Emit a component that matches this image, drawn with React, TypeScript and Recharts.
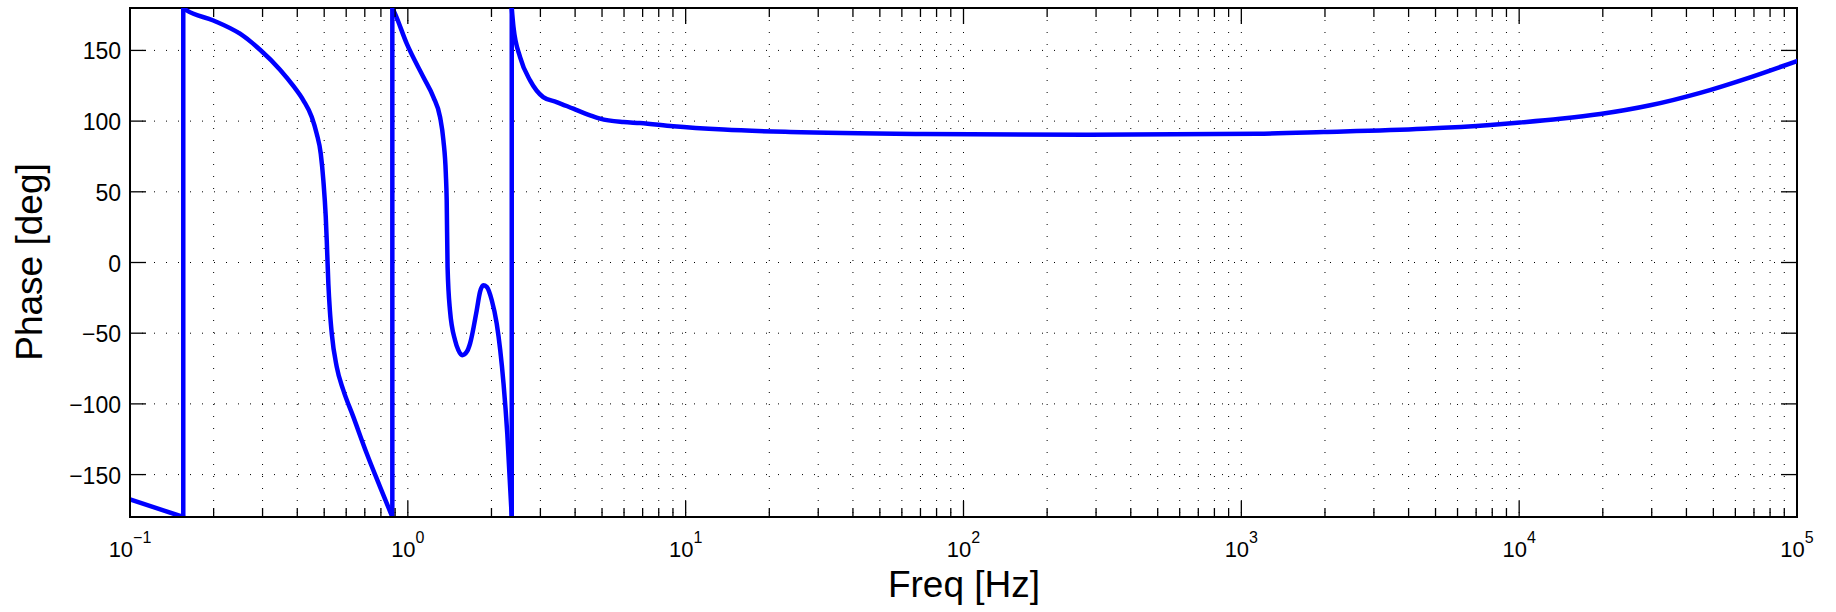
import { LineChart, Line, XAxis, YAxis, CartesianGrid, ReferenceArea } from 'recharts';

// phase branches of the Bode plot, frequency [Hz] / phase [deg]
const branch1F = [0.1, 0.1555];
const branch1P = [-167.5, -180];

const branch2F = [0.1555, 0.16, 0.1995, 0.2489, 0.2938, 0.3467, 0.387, 0.4206, 0.451, 0.4699, 0.4859, 0.4965, 0.5065, 0.5107, 0.5175, 0.524, 0.5323, 0.5548, 0.5859, 0.6366, 0.7114, 0.7943, 0.8794];
const branch2P = [180, 178.3, 171.2, 161.8, 150.5, 136.4, 124.9, 114.7, 102.9, 91.1, 77, 58.1, 32.2, 15.7, -14.9, -33.8, -50.2, -73.8, -90.3, -109.2, -135.1, -158.7, -180];

const branch3F = [0.8794, 0.899, 0.991, 1.137, 1.236, 1.306, 1.343, 1.37, 1.38, 1.39, 1.418, 1.479, 1.52, 1.57, 1.63, 1.675, 1.77, 1.819, 1.87, 1.923, 2.005, 2.089, 2.21, 2.28, 2.366];
const branch3P = [180, 176, 154.8, 131.2, 117, 102.9, 86.4, 62.9, 44, -3.2, -33.8, -55, -62, -65.6, -63.2, -57.3, -33.8, -20.8, -16.1, -17.3, -26.7, -43.2, -85.6, -121, -180];

const branch4F = [2.366, 2.4, 2.535, 2.754, 3.07, 3.43, 3.94, 4.53, 4.92, 5.97, 6.85, 9.03, 13.7, 23.8, 71.8, 286, 1138, 1977, 4529, 7870, 10083, 14047, 19567, 29620, 44840, 67850, 100000];
const branch4P = [180, 166.5, 145.3, 128.8, 117, 113.5, 108.8, 104.1, 101.7, 99.3, 98.6, 96.3, 94, 92.3, 90.9, 90.4, 91.1, 92.3, 94.6, 97.3, 99, 101.6, 105, 111.2, 120, 131, 142.5];

// wrap points where the phase jumps from -180 to +180
const wrapF = [0.1555, 0.8794, 2.366];

const decades = [0.1, 1, 10, 100, 1000, 10000, 100000];
const decadeExp = ['\u22121', '0', '1', '2', '3', '4', '5'];
const minorMult = [2, 3, 4, 5, 6, 7, 8, 9];
const yTicks = [-150, -100, -50, 0, 50, 100, 150];

const toRows = (fs: number[], ps: number[]) => fs.map((f, i) => ({ f, phase: ps[i] }));
const branches = [
  { rows: toRows(branch1F, branch1P), curve: 'linear' as const },
  { rows: toRows(branch2F, branch2P), curve: 'monotone' as const },
  { rows: toRows(branch3F, branch3P), curve: 'monotone' as const },
  { rows: toRows(branch4F, branch4P), curve: 'monotone' as const },
];
const wraps = wrapF.map((f) => [{ f, phase: -180 }, { f, phase: 180 }]);

const xTicks: number[] = [];
decades.forEach((d, i) => {
  xTicks.push(d);
  if (i < decades.length - 1) minorMult.forEach((m) => xTicks.push(+(d * m).toPrecision(3)));
});

const W = 1836;
const H = 612;
const TOP = 8;
const BOTTOM = 517;
const LEFT = 130;
const RIGHT = 1797;
const FONT = '"Liberation Sans", Arial, Helvetica, sans-serif';
const BLUE = '#0000ff';

const XTick = (props: any) => {
  const { x, payload } = props;
  const v = payload.value;
  const di = decades.findIndex((d) => Math.abs(d - v) / d < 1e-6);
  const len = di >= 0 ? 16 : 9;
  return (
    <g>
      <line x1={x} x2={x} y1={BOTTOM} y2={BOTTOM - len} stroke="#000" strokeWidth={1.3} />
      <line x1={x} x2={x} y1={TOP} y2={TOP + len} stroke="#000" strokeWidth={1.3} />
      {di >= 0 && (
        <text x={x} y={557} textAnchor="middle" fontSize={22} fill="#000" fontFamily={FONT}>
          <tspan>10</tspan>
          <tspan dy={-14} fontSize={16}>{decadeExp[di]}</tspan>
        </text>
      )}
    </g>
  );
};

const YTick = (props: any) => {
  const { y, payload } = props;
  const v = payload.value as number;
  const label = v < 0 ? '\u2212' + Math.abs(v) : String(v);
  return (
    <g>
      <line x1={LEFT} x2={LEFT + 16} y1={y} y2={y} stroke="#000" strokeWidth={1.3} />
      <line x1={RIGHT} x2={RIGHT - 16} y1={y} y2={y} stroke="#000" strokeWidth={1.3} />
      <text x={121} y={y + 9} textAnchor="end" fontSize={23} fill="#000" fontFamily={FONT}>
        {label}
      </text>
    </g>
  );
};

const XLabel = () => (
  <text x={964} y={597} textAnchor="middle" fontSize={37} fill="#000" fontFamily={FONT}>
    Freq [Hz]
  </text>
);

const YLabel = () => (
  <text
    x={42}
    y={262}
    textAnchor="middle"
    fontSize={37}
    fill="#000"
    fontFamily={FONT}
    transform="rotate(-90, 42, 262)"
  >
    Phase [deg]
  </text>
);

export default function App() {
  return (
    <div style={{ position: 'absolute', left: 0, top: 0, background: '#fff' }}>
      <LineChart
        width={W}
        height={H}
        margin={{ top: TOP, right: W - RIGHT, left: 0, bottom: 0 }}
        style={{ fontFamily: FONT }}
      >
        <CartesianGrid stroke="#000" strokeDasharray="1 11" strokeWidth={1} />
        <XAxis
          dataKey="f"
          type="number"
          scale="log"
          domain={[0.1, 100000]}
          ticks={xTicks}
          interval={0}
          allowDataOverflow
          height={H - BOTTOM}
          tick={<XTick />}
          tickLine={false}
          axisLine={{ stroke: '#000', strokeWidth: 2 }}
          label={<XLabel />}
        />
        <YAxis
          type="number"
          domain={[-180, 180]}
          ticks={yTicks}
          interval={0}
          allowDataOverflow
          width={LEFT}
          tick={<YTick />}
          tickLine={false}
          axisLine={{ stroke: '#000', strokeWidth: 2 }}
          label={<YLabel />}
        />
        <ReferenceArea x1={0.1} x2={100000} y1={-180} y2={180} fill="none" stroke="#000" strokeWidth={2} />
        {wraps.map((rows, i) => (
          <Line
            key={'w' + i}
            data={rows}
            dataKey="phase"
            type="linear"
            stroke={BLUE}
            strokeWidth={4.5}
            dot={false}
            activeDot={false}
            isAnimationActive={false}
          />
        ))}
        {branches.map((b, i) => (
          <Line
            key={'b' + i}
            data={b.rows}
            dataKey="phase"
            type={b.curve}
            stroke={BLUE}
            strokeWidth={4.5}
            strokeLinecap="round"
            dot={false}
            activeDot={false}
            isAnimationActive={false}
          />
        ))}
      </LineChart>
    </div>
  );
}
